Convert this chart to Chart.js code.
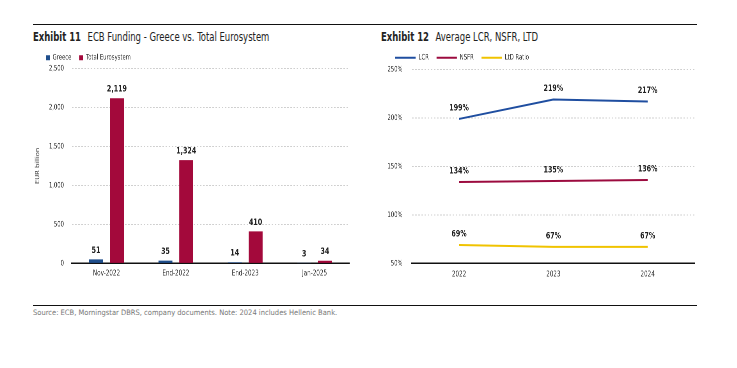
<!DOCTYPE html>
<html lang="en">
<head>
  <meta charset="UTF-8" />
  <title>ECB Funding / LCR NSFR LTD</title>
  <script src="https://cdn.jsdelivr.net/npm/chart.js"></script>
  <style>
    body {
      margin: 0;
      width: 737px;
      height: 368px;
      background: #fff;
      position: relative;
      overflow: hidden;
      font-family: 'DejaVu Sans Condensed', 'DejaVu Sans', sans-serif;
      color: #222;
    }
    .rule { position: absolute; left: 33px; width: 664px; height: 0; border-top: 1.5px solid #111; }
    .title { position: absolute; top: 30px; font-size: 11.5px; white-space: nowrap;
             transform: scaleX(0.82); transform-origin: left top; }
    .title b { margin-right: 8px; }
    /* charts are drawn wider and squeezed to mimic the condensed typeface */
    .box { position: absolute; transform: scaleX(0.78); transform-origin: left top; }
    .source { position: absolute; left: 33px; top: 308px; font-size: 7.5px; color: #777; white-space: nowrap; }
  </style>
</head>
<body>
  <div class="rule" style="top:24px"></div>
  <div class="title" style="left:33px"><b>Exhibit 11</b>ECB Funding - Greece vs. Total Eurosystem</div>
  <div class="title" style="left:381px"><b>Exhibit 12</b>Average LCR, NSFR, LTD</div>

  <div class="box" style="left:31px; top:41px; width:416px; height:242px"><canvas id="fundingChart"></canvas></div>
  <div class="box" style="left:375px; top:42px; width:423px; height:243px"><canvas id="ratioChart"></canvas></div>

  <div class="rule" style="top:305px"></div>
  <div class="source">Source: ECB, Morningstar DBRS, company documents. Note: 2024 includes Hellenic Bank.</div>

  <script>
    // Exhibit 11 data (EUR billion)
    const periods = ["Nov-2022", "End-2022", "End-2023", "Jan-2025"];
    const greece = [51, 35, 14, 3];
    const eurosystem = [2119, 1324, 410, 34];

    // Exhibit 12 data (%)
    const years = ["2022", "2023", "2024"];
    const lcr = [199, 219, 217];
    const nsfr = [134, 135, 136];
    const ltd = [69, 67, 67];

    const FONT = "'DejaVu Sans Condensed', 'DejaVu Sans', sans-serif";
    const TEXT = "#333";
    Chart.defaults.font.family = FONT;
    Chart.defaults.color = TEXT;

    // prints the values above bars / points
    const valueLabels = {
      id: 'valueLabels',
      afterDatasetsDraw(chart, args, opts) {
        const ctx = chart.ctx;
        ctx.save();
        ctx.font = "bold 9px " + FONT;
        ctx.fillStyle = "#222";
        ctx.textAlign = "center";
        ctx.textBaseline = "middle";
        chart.data.datasets.forEach((ds, i) => {
          chart.getDatasetMeta(i).data.forEach((el, j) => {
            ctx.fillText(opts.format(ds.data[j]), el.x, el.y - opts.offset);
          });
        });
        ctx.restore();
      }
    };

    // nudges the legend block
    const legendShift = {
      id: 'legendShift',
      afterLayout(chart, args, opts) {
        chart.legend.left += opts.dx || 0;
        chart.legend.top += opts.dy || 0;
      }
    };

    const gridStyle = { color: "#cfcfcf", lineWidth: 1, drawTicks: false };

    new Chart(document.getElementById("fundingChart"), {
      type: 'bar',
      data: {
        labels: periods,
        datasets: [
          { label: "Greece", data: greece, backgroundColor: "#1f4e8c" },
          { label: "Total Eurosystem", data: eurosystem, backgroundColor: "#a3093b" }
        ]
      },
      options: {
        responsive: true,
        maintainAspectRatio: false,
        animation: false,
        devicePixelRatio: 2,
        categoryPercentage: 0.6,
        barPercentage: 0.67,
        layout: { padding: { left: 4, right: 8, top: 0, bottom: 0 } },
        plugins: {
          legend: {
            position: 'top',
            align: 'start',
            labels: { boxWidth: 5, boxHeight: 5, padding: 10, color: TEXT, font: { size: 7.5 } }
          },
          legendShift: { dx: 5, dy: 3 },
          tooltip: { enabled: false },
          valueLabels: { offset: 9, format: v => v.toLocaleString('en-US') }
        },
        scales: {
          x: {
            grid: { display: false, drawTicks: false },
            border: { color: "#111", width: 1.5 },
            ticks: { padding: 5, color: TEXT, font: { size: 8 } }
          },
          y: {
            min: 0,
            max: 2500,
            ticks: { stepSize: 500, padding: 10, color: TEXT, font: { size: 7.5 },
                     callback: v => v.toLocaleString('en-US') },
            grid: gridStyle,
            border: { display: false, dash: [2, 2] },
            title: { display: true, text: "EUR billion", color: TEXT, font: { size: 7.5 }, padding: 0 }
          }
        }
      },
      plugins: [valueLabels, legendShift]
    });

    const lineSet = (label, data, color) => ({
      label, data,
      borderColor: color,
      backgroundColor: color,
      borderWidth: 2,
      pointRadius: 0,
      tension: 0
    });

    new Chart(document.getElementById("ratioChart"), {
      type: 'line',
      data: {
        labels: years,
        datasets: [
          lineSet("LCR", lcr, "#1f4ea0"),
          lineSet("NSFR", nsfr, "#9c0b3f"),
          lineSet("LtD Ratio", ltd, "#f0c300")
        ]
      },
      options: {
        responsive: true,
        maintainAspectRatio: false,
        animation: false,
        devicePixelRatio: 2,
        layout: { padding: { left: 4, right: 13, top: 0, bottom: 0 } },
        plugins: {
          legend: {
            position: 'top',
            align: 'start',
            labels: { usePointStyle: true, pointStyle: 'line', pointStyleWidth: 26, boxHeight: 6,
                      padding: 10, color: TEXT, font: { size: 7.5 } }
          },
          legendShift: { dx: 12, dy: 2 },
          tooltip: { enabled: false },
          valueLabels: { offset: 11, format: v => v + "%" }
        },
        scales: {
          x: {
            offset: true,
            grid: { display: false, drawTicks: false },
            border: { color: "#111", width: 1.5 },
            ticks: { padding: 6, color: TEXT, font: { size: 8 } }
          },
          y: {
            min: 50,
            max: 250,
            ticks: { stepSize: 50, padding: 12, color: TEXT, font: { size: 7.5 }, callback: v => v + "%" },
            grid: gridStyle,
            border: { display: false, dash: [2, 2] }
          }
        }
      },
      plugins: [valueLabels, legendShift]
    });
  </script>
</body>
</html>
